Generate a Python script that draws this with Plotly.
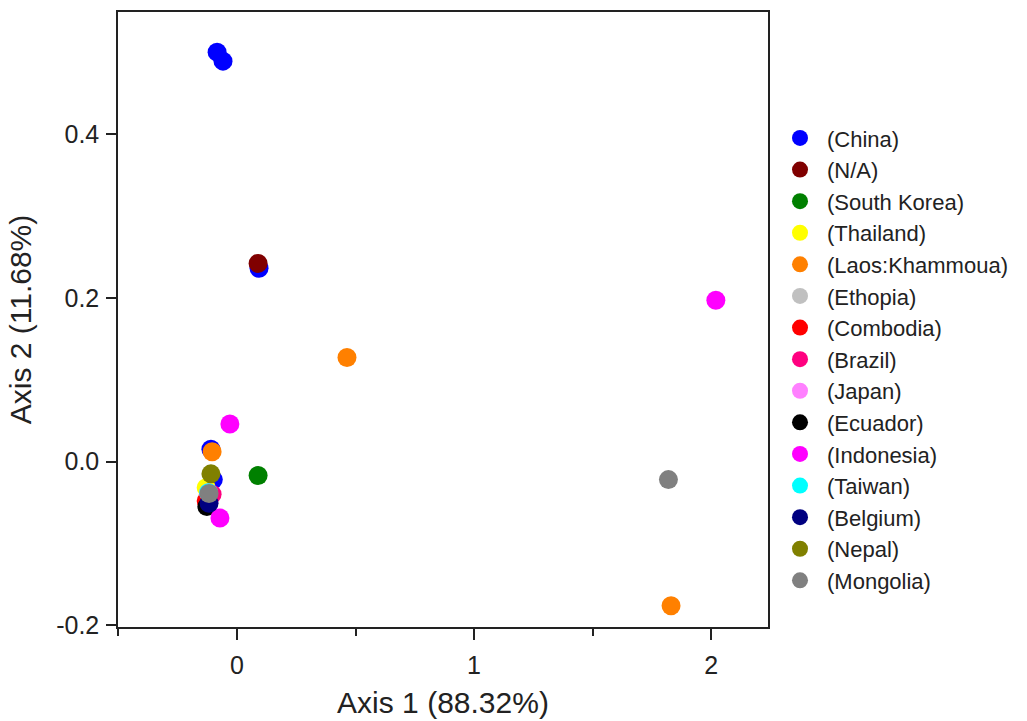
import plotly.graph_objects as go

countries = ["(China)", "(N/A)", "(South Korea)", "(Thailand)", "(Laos:Khammoua)",
             "(Ethopia)", "(Combodia)", "(Brazil)", "(Japan)", "(Ecuador)",
             "(Indonesia)", "(Taiwan)", "(Belgium)", "(Nepal)", "(Mongolia)"]
colors = ["#0000FF", "#800000", "#008000", "#FFFF00", "#FF8000",
          "#C0C0C0", "#FF0000", "#FF0080", "#FF80FF", "#000000",
          "#FF00FF", "#00FFFF", "#000080", "#808000", "#808080"]

x_vals = [
    [-0.084, -0.059, 0.093, -0.11, -0.10],
    [0.089],
    [0.089],
    [-0.13],
    [-0.105, 0.464, 1.831],
    [-0.12],
    [-0.13],
    [-0.105],
    [-0.12],
    [-0.127],
    [-0.03, -0.072, 2.02],
    [-0.12],
    [-0.118],
    [-0.11],
    [-0.118, 1.82],
]
y_vals = [
    [0.500, 0.489, 0.236, 0.015, -0.022],
    [0.242],
    [-0.017],
    [-0.032],
    [0.012, 0.127, -0.176],
    [-0.038],
    [-0.048],
    [-0.040],
    [-0.038],
    [-0.055],
    [0.046, -0.069, 0.197],
    [-0.038],
    [-0.051],
    [-0.015],
    [-0.039, -0.022],
]

x_ticks = [0, 1, 2]
x_ticktext = ["0", "1", "2"]
x_minor = [-0.5, 0.5, 1.5]
y_ticks = [-0.2, 0.0, 0.2, 0.4]
y_ticktext = ["-0.2", "0.0", "0.2", "0.4"]

FONT = "Arial, Liberation Sans, sans-serif"

fig = go.Figure()
for name, col, xs, ys in zip(countries, colors, x_vals, y_vals):
    fig.add_trace(go.Scatter(
        x=xs, y=ys, mode="markers", name=name,
        marker=dict(color=col, size=19, line=dict(width=0)),
    ))

fig.update_layout(
    width=1027, height=721,
    margin=dict(l=118, r=259, t=12, b=94, autoexpand=False),
    plot_bgcolor="white", paper_bgcolor="white",
    font=dict(family=FONT, color="#222222", size=24),
    showlegend=True,
    legend=dict(x=1.0077, y=0.829, xanchor="left", yanchor="top",
                font=dict(size=22, color="#222222"),
                tracegroupgap=0, itemwidth=44,
                itemsizing="trace", bgcolor="rgba(0,0,0,0)"),
    xaxis=dict(
        range=[-0.502, 2.24], tickvals=x_ticks, ticktext=x_ticktext,
        ticks="outside", ticklen=11, tickwidth=1.5, tickcolor="#222",
        minor=dict(tickvals=x_minor, ticks="outside", ticklen=7, tickwidth=1.5, tickcolor="#222"),
        showline=True, linecolor="#222", linewidth=1.5, mirror=True,
        showgrid=False, zeroline=False,
        tickfont=dict(size=25), ticklabelstandoff=4,
        title=dict(text="Axis 1 (88.32%)", font=dict(size=30), standoff=14),
    ),
    yaxis=dict(
        range=[-0.202, 0.549], tickvals=y_ticks, ticktext=y_ticktext,
        ticks="outside", ticklen=10, tickwidth=1.5, tickcolor="#222",
        showline=True, linecolor="#222", linewidth=1.5, mirror=True,
        showgrid=False, zeroline=False,
        tickfont=dict(size=25), ticklabelstandoff=2,
        title=dict(text="Axis 2 (11.68%)", font=dict(size=30), standoff=16),
    ),
)

fig.write_html("out.html")
